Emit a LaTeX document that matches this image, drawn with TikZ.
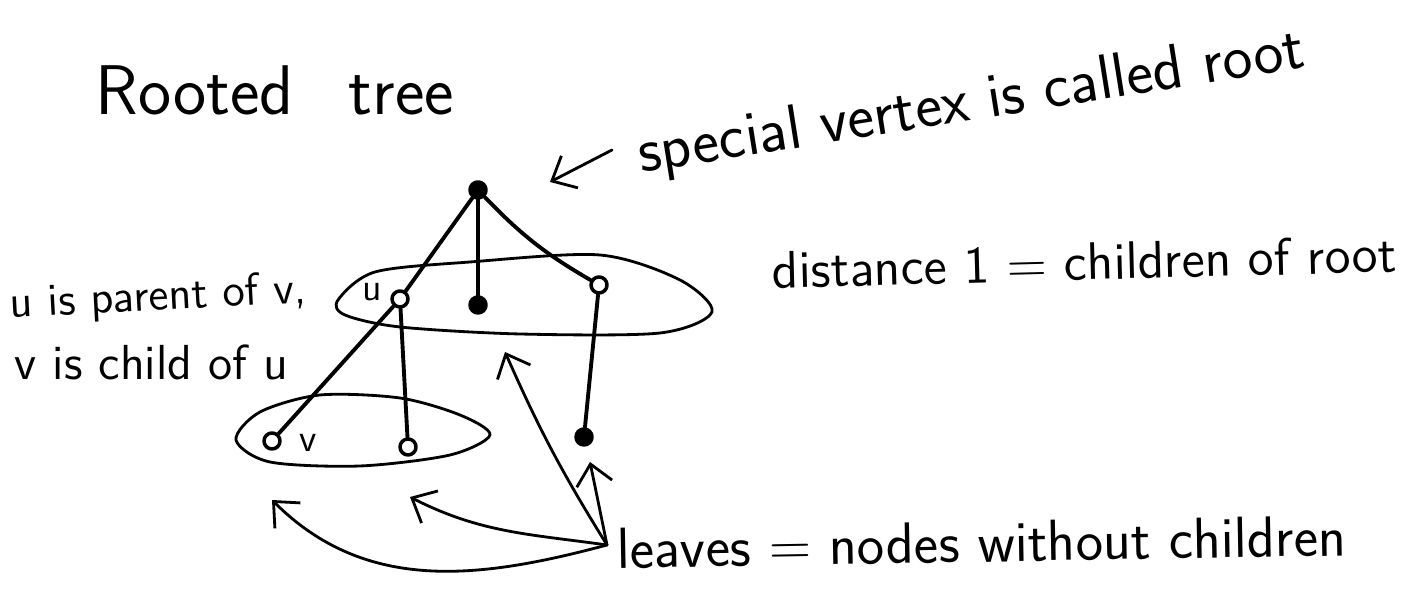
\documentclass[tikz,border=0pt]{standalone}
\usepackage{tikz}
\usetikzlibrary{arrows.meta}

\begin{document}
\begin{tikzpicture}[x=0.01cm, y=0.01cm, line cap=round, line join=round,
    vert/.style={circle, draw, minimum size=0.16cm, inner sep=0pt, line width=1pt, fill=white},
    filled/.style={circle, draw, minimum size=0.16cm, inner sep=0pt, line width=1pt, fill=black},
    edge/.style={line width=1.1pt},
    group/.style={line width=0.8pt},
    note/.style={font=\sffamily\fontsize{15}{18}\selectfont, inner sep=0pt},
    ptr/.style={line width=0.8pt, -{Straight Barb[length=2mm, width=3.6mm]}}
]
  \useasboundingbox (0,0) rectangle (1413,604);

  % tree
  \node[filled] (root) at (478, 414) {};
  \node[vert] (u) at (400, 305) {};
  \node[filled] (mid) at (478, 299) {};
  \node[vert] (right) at (599, 319) {};
  \node[vert] (v) at (272, 163) {};
  \node[vert] (g2) at (408, 157) {};
  \node[filled] (g3) at (584, 167) {};

  \draw[edge] (root) -- (u);
  \draw[edge] (u) -- (v);
  \draw[edge] (root) -- (mid);
  \draw[edge] (root) to[bend right=8] (right);
  \draw[edge] (u) -- (g2);
  \draw[edge] (right) -- (g3);

  % levels
  \draw[group] plot[smooth cycle] coordinates {(338,304) (375,332) (470,342) (600,349) (680,324) (712,292) (660,271) (520,270) (400,277) (345,289)};
  \draw[group] plot[smooth cycle] coordinates {(236,164) (260,192) (320,209) (400,206) (460,189) (490,169) (450,149) (360,138) (270,142)};

  % labels
  \node[note, font=\sffamily\fontsize{11}{13}\selectfont] (ulab) at (372, 312) {u};
  \node[note, font=\sffamily\fontsize{11}{13}\selectfont] (vlab) at (308, 161) {v};

  \node[note, font=\sffamily\fontsize{20}{24}\selectfont, anchor=base west] (title) at (95, 489) {Rooted\hspace{0.55cm}tree};
  \node[note, font=\sffamily\fontsize{18}{21}\selectfont, anchor=base, rotate=9] (special) at (974, 484) {special vertex is called root};
  \node[note, anchor=base, rotate=1.5] (dist) at (1085, 324) {distance 1 = children of root};
  \node[note, font=\sffamily\fontsize{16.5}{19}\selectfont, anchor=base, rotate=1] (leaves) at (982, 42) {leaves = nodes without children};
  \node[note, font=\sffamily\fontsize{13}{16}\selectfont, anchor=base west, rotate=3] (parent) at (10, 286) {u is parent of v,};
  \node[note, font=\sffamily\fontsize{14}{16}\selectfont, anchor=base west] (child) at (14, 224) {v is child of u};

  % pointers
  \coordinate (sp) at (612, 454);
  \coordinate (sptip) at (550, 422);
  \draw[ptr] (sp) -- (sptip);

  \coordinate (lv) at (607, 59);
  \coordinate (t1) at (505, 252);
  \coordinate (t2) at (590, 142);
  \coordinate (t3) at (410, 107);
  \coordinate (t4) at (272, 104);
  \draw[ptr] (lv) to[bend left=4] (t1);
  \draw[ptr] (lv) -- (t2);
  \draw[ptr] (lv) to[out=172, in=-27] (t3);
  \draw[ptr] (lv) to[out=195, in=-45] (t4);
\end{tikzpicture}
\end{document}
